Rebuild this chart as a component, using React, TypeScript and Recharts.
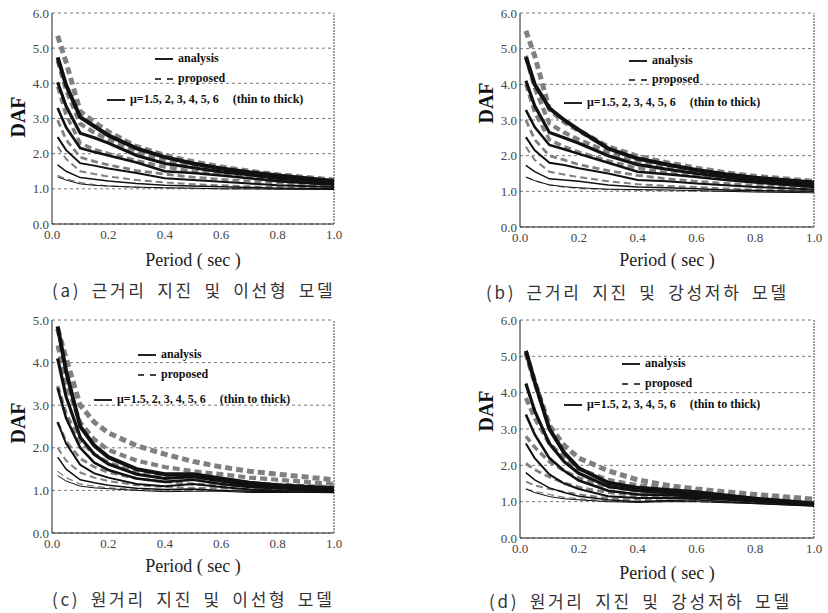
import { LineChart, Line, XAxis, YAxis, CartesianGrid, ReferenceLine } from "recharts";

const T = [0.02, 0.05, 0.1, 0.15, 0.2, 0.3, 0.4, 0.5, 0.6, 0.7, 0.8, 1.0];
const X_TICKS = [0, 0.2, 0.4, 0.6, 0.8, 1.0];
const Y_TICKS_6 = [0, 1, 2, 3, 4, 5, 6];
const Y_TICKS_5 = [0, 1, 2, 3, 4, 5];

// (a) near-fault, bilinear
const anaA = [
  [1.34, 1.25, 1.14, 1.1, 1.08, 1.05, 1.03, 1.02, 1.0, 1.0, 0.99, 0.98],
  [1.68, 1.5, 1.32, 1.27, 1.22, 1.15, 1.1, 1.08, 1.06, 1.04, 1.02, 1.0],
  [2.47, 2.1, 1.73, 1.66, 1.58, 1.45, 1.3, 1.25, 1.2, 1.15, 1.1, 1.05],
  [3.3, 2.75, 2.16, 2.05, 1.95, 1.75, 1.5, 1.45, 1.38, 1.3, 1.22, 1.12],
  [4.03, 3.35, 2.58, 2.45, 2.3, 1.95, 1.72, 1.6, 1.48, 1.4, 1.3, 1.18],
  [4.74, 3.95, 3.04, 2.78, 2.52, 2.15, 1.9, 1.72, 1.58, 1.47, 1.38, 1.22],
];
const proA = [
  [1.38, 1.28, 1.18, 1.12, 1.08, 1.04, 1.02, 1.01, 1.0, 1.0, 1.0, 1.0],
  [2.2, 1.85, 1.5, 1.42, 1.35, 1.25, 1.18, 1.13, 1.1, 1.07, 1.05, 1.02],
  [2.95, 2.4, 1.9, 1.78, 1.68, 1.52, 1.42, 1.33, 1.27, 1.22, 1.17, 1.1],
  [3.9, 3.1, 2.3, 2.12, 2.0, 1.8, 1.62, 1.5, 1.42, 1.35, 1.28, 1.17],
  [4.65, 3.8, 2.85, 2.6, 2.4, 2.05, 1.8, 1.65, 1.52, 1.43, 1.35, 1.22],
  [5.35, 4.6, 3.2, 2.9, 2.62, 2.2, 1.95, 1.77, 1.62, 1.5, 1.4, 1.25],
];

// (b) near-fault, stiffness degrading
const anaB = [
  [1.4, 1.3, 1.18, 1.13, 1.1, 1.06, 1.05, 1.04, 1.02, 1.0, 0.98, 0.96],
  [1.73, 1.55, 1.35, 1.32, 1.28, 1.18, 1.12, 1.1, 1.07, 1.04, 1.02, 1.0],
  [2.52, 2.15, 1.8, 1.74, 1.65, 1.5, 1.32, 1.28, 1.22, 1.17, 1.12, 1.05],
  [3.28, 2.8, 2.3, 2.18, 2.05, 1.8, 1.55, 1.48, 1.4, 1.32, 1.25, 1.12],
  [4.1, 3.4, 2.65, 2.5, 2.35, 2.0, 1.75, 1.62, 1.5, 1.4, 1.3, 1.18],
  [4.76, 4.0, 3.33, 3.0, 2.72, 2.2, 1.92, 1.75, 1.6, 1.48, 1.38, 1.25],
];
const proB = [
  [1.4, 1.3, 1.18, 1.12, 1.08, 1.05, 1.03, 1.02, 1.0, 1.0, 1.0, 1.0],
  [2.25, 1.88, 1.55, 1.47, 1.4, 1.28, 1.2, 1.15, 1.12, 1.08, 1.05, 1.02],
  [3.0, 2.45, 2.0, 1.88, 1.75, 1.58, 1.45, 1.35, 1.28, 1.22, 1.17, 1.1],
  [4.0, 3.2, 2.45, 2.25, 2.1, 1.85, 1.65, 1.52, 1.43, 1.35, 1.28, 1.17],
  [4.8, 3.9, 2.9, 2.65, 2.45, 2.1, 1.85, 1.68, 1.55, 1.45, 1.37, 1.23],
  [5.5, 4.8, 3.3, 2.95, 2.7, 2.25, 1.98, 1.8, 1.65, 1.52, 1.42, 1.28],
];

// (c) far-fault, bilinear
const anaC = [
  [1.35, 1.22, 1.1, 1.06, 1.04, 1.0, 0.97, 0.98, 0.98, 0.95, 0.95, 0.95],
  [1.78, 1.5, 1.25, 1.18, 1.12, 1.05, 1.02, 1.03, 1.0, 0.98, 0.97, 0.95],
  [2.6, 2.1, 1.6, 1.4, 1.3, 1.15, 1.1, 1.15, 1.08, 1.02, 1.0, 0.98],
  [3.4, 2.7, 2.0, 1.65, 1.48, 1.28, 1.2, 1.25, 1.15, 1.08, 1.05, 1.0],
  [4.1, 3.2, 2.25, 1.85, 1.62, 1.38, 1.28, 1.32, 1.22, 1.12, 1.08, 1.02],
  [4.85, 3.8, 2.5, 2.05, 1.78, 1.5, 1.38, 1.38, 1.28, 1.18, 1.12, 1.05],
];
const proC = [
  [1.45, 1.3, 1.15, 1.1, 1.06, 1.02, 1.0, 1.0, 1.0, 1.0, 1.0, 1.0],
  [2.0, 1.7, 1.42, 1.3, 1.22, 1.12, 1.08, 1.06, 1.05, 1.03, 1.02, 1.0],
  [2.6, 2.15, 1.75, 1.55, 1.42, 1.28, 1.2, 1.15, 1.12, 1.1, 1.07, 1.03],
  [3.45, 2.8, 2.15, 1.85, 1.65, 1.45, 1.35, 1.28, 1.22, 1.18, 1.14, 1.08],
  [4.4, 3.5, 2.6, 2.2, 1.95, 1.7, 1.55, 1.45, 1.38, 1.3, 1.25, 1.15],
  [4.8, 4.1, 3.0, 2.6, 2.35, 2.05, 1.85, 1.68, 1.55, 1.45, 1.38, 1.25],
];

// (d) far-fault, stiffness degrading
const anaD = [
  [1.35, 1.25, 1.14, 1.08, 1.05, 1.0, 0.98, 1.0, 1.0, 0.97, 0.95, 0.88],
  [1.8, 1.6, 1.38, 1.25, 1.15, 1.05, 1.0, 1.03, 1.05, 1.0, 0.95, 0.88],
  [2.6, 2.2, 1.75, 1.5, 1.35, 1.15, 1.1, 1.1, 1.1, 1.05, 1.0, 0.9],
  [3.4, 2.85, 2.2, 1.85, 1.58, 1.3, 1.2, 1.18, 1.15, 1.08, 1.02, 0.92],
  [4.25, 3.5, 2.6, 2.1, 1.78, 1.42, 1.3, 1.25, 1.2, 1.12, 1.05, 0.93],
  [5.15, 4.3, 3.0, 2.35, 1.92, 1.52, 1.38, 1.32, 1.26, 1.17, 1.08, 0.95],
];
const proD = [
  [1.35, 1.28, 1.2, 1.12, 1.08, 1.02, 1.0, 1.0, 1.0, 0.98, 0.97, 0.92],
  [1.55, 1.45, 1.35, 1.27, 1.2, 1.1, 1.05, 1.03, 1.02, 1.0, 1.0, 0.95],
  [2.05, 1.88, 1.68, 1.52, 1.4, 1.25, 1.15, 1.12, 1.1, 1.07, 1.05, 0.98],
  [2.8, 2.5, 2.1, 1.85, 1.65, 1.4, 1.3, 1.25, 1.2, 1.15, 1.1, 1.0],
  [3.85, 3.3, 2.6, 2.2, 1.9, 1.6, 1.45, 1.37, 1.3, 1.22, 1.15, 1.03],
  [5.1, 4.3, 3.1, 2.55, 2.2, 1.85, 1.6, 1.45, 1.35, 1.27, 1.2, 1.07],
];

const ANA_W = [1, 1.5, 2, 2.6, 3.2, 4];
const PRO_W = [1.3, 2, 2.8, 3.5, 4.2, 5];

const SERIF = "'Liberation Serif', 'DejaVu Serif', serif";
const KR = "'Noto Sans CJK KR', sans-serif";

const PANELS = [
  {
    x: 0, y: 0, pl: 52, pr: 334, pt: 13, pb: 224, yMax: 6, ana: anaA, pro: proA,
    caption: "(a) 근거리 지진 및 이선형 모델", capX: 52, capY: 290, periodY: 257, dafX: 18, dafY: 117,
    leg: { ax: 155, ay: 58, py: 78, mx: 107, my: 99 },
  },
  {
    x: 414, y: 0, pl: 106, pr: 400, pt: 13, pb: 227, yMax: 6, ana: anaB, pro: proB,
    caption: "(b) 근거리 지진 및 강성저하 모델", capX: 72, capY: 292, periodY: 257, dafX: 72, dafY: 103,
    leg: { ax: 215, ay: 60, py: 79, mx: 150, my: 102 },
  },
  {
    x: 0, y: 306, pl: 52, pr: 334, pt: 14, pb: 227, yMax: 5, ana: anaC, pro: proC,
    caption: "(c) 원거리 지진 및 이선형 모델", capX: 52, capY: 293, periodY: 257, dafX: 18, dafY: 117,
    leg: { ax: 138, ay: 48, py: 68, mx: 94, my: 93 },
  },
  {
    x: 414, y: 306, pl: 106, pr: 400, pt: 14, pb: 232, yMax: 6, ana: anaD, pro: proD,
    caption: "(d) 원거리 지진 및 강성저하 모델", capX: 75, capY: 295, periodY: 264, dafX: 72, dafY: 105,
    leg: { ax: 208, ay: 57, py: 77, mx: 150, my: 98 },
  },
];

const W = 414;
const H = 306;

function Panel({ p }: { p: (typeof PANELS)[number] }) {
  const data = T.map((t, i) => {
    const row: Record<string, number> = { t };
    p.ana.forEach((s, k) => (row["a" + k] = s[i]));
    p.pro.forEach((s, k) => (row["p" + k] = s[i]));
    return row;
  });
  const xh = p.periodY + 9 - p.pb;
  const legText = { position: "absolute" as const, fontFamily: SERIF, fontWeight: 700, fontSize: 12, color: "#111", lineHeight: "14px", whiteSpace: "nowrap" as const };

  return (
    <div style={{ position: "absolute", left: p.x, top: p.y, width: W, height: H }}>
      <LineChart width={W} height={H} data={data}
        margin={{ top: p.pt, right: W - p.pr, left: 0, bottom: H - p.pb - xh }}>
        <CartesianGrid vertical={false} stroke="#777" strokeDasharray="3 3" />
        <XAxis dataKey="t" type="number" domain={[0, 1]} ticks={X_TICKS} height={xh}
          tickFormatter={(v: number) => v.toFixed(1)} tickLine={false} tickSize={3} tickMargin={3}
          tick={{ fontFamily: SERIF, fontSize: 13, fill: "#444" }} stroke="#222"
          label={{ value: "Period ( sec )", position: "insideBottom", offset: 0, fontFamily: SERIF, fontSize: 18, fill: "#222" }} />
        <YAxis type="number" domain={[0, p.yMax]} ticks={p.yMax === 5 ? Y_TICKS_5 : Y_TICKS_6} width={p.pl}
          tickFormatter={(v: number) => v.toFixed(1)} tickLine={false} tickSize={2} tickMargin={1}
          tick={{ fontFamily: SERIF, fontSize: 13, fill: "#444" }} stroke="#222" />
        <ReferenceLine x={1} stroke="#444" strokeDasharray="2 1" />
        {p.pro.map((_, k) => (
          <Line key={"p" + k} dataKey={"p" + k} type="linear" stroke="#808080" strokeWidth={PRO_W[k]}
            strokeDasharray="7 4" dot={false} isAnimationActive={false} />
        ))}
        {p.ana.map((_, k) => (
          <Line key={"a" + k} dataKey={"a" + k} type="linear" stroke="#111" strokeWidth={ANA_W[k]}
            dot={false} isAnimationActive={false} />
        ))}
      </LineChart>

      <div style={{ position: "absolute", left: p.dafX - 25, top: p.dafY - 12, width: 50, height: 24, textAlign: "center",
        transform: "rotate(-90deg)", fontFamily: SERIF, fontWeight: 700, fontSize: 20, lineHeight: "24px", color: "#111" }}>
        DAF
      </div>

      <div style={{ position: "absolute", left: p.leg.ax, top: p.leg.ay, width: 18, borderTop: "2px solid #222" }} />
      <div style={{ ...legText, left: p.leg.ax + 23, top: p.leg.ay - 7 }}>analysis</div>
      <div style={{ position: "absolute", left: p.leg.ax, top: p.leg.py, width: 18, borderTop: "2px dashed #444" }} />
      <div style={{ ...legText, left: p.leg.ax + 23, top: p.leg.py - 7 }}>proposed</div>
      <div style={{ position: "absolute", left: p.leg.mx, top: p.leg.my, width: 18, borderTop: "2px solid #222" }} />
      <div style={{ ...legText, left: p.leg.mx + 23, top: p.leg.my - 7 }}>
        μ=1.5, 2, 3, 4, 5, 6<span style={{ marginLeft: 14 }}>(thin to thick)</span>
      </div>

      <div style={{ position: "absolute", left: p.capX, top: p.capY - 12, fontFamily: KR, fontSize: 17, lineHeight: "24px",
        letterSpacing: 2.7, wordSpacing: 4, color: "#333", whiteSpace: "nowrap" }}>
        {p.caption}
      </div>
    </div>
  );
}

export default function App() {
  return (
    <div style={{ position: "absolute", left: 0, top: 0, width: 828, height: 613, background: "#fff", overflow: "hidden" }}>
      {PANELS.map((p, i) => (
        <Panel key={i} p={p} />
      ))}
    </div>
  );
}
